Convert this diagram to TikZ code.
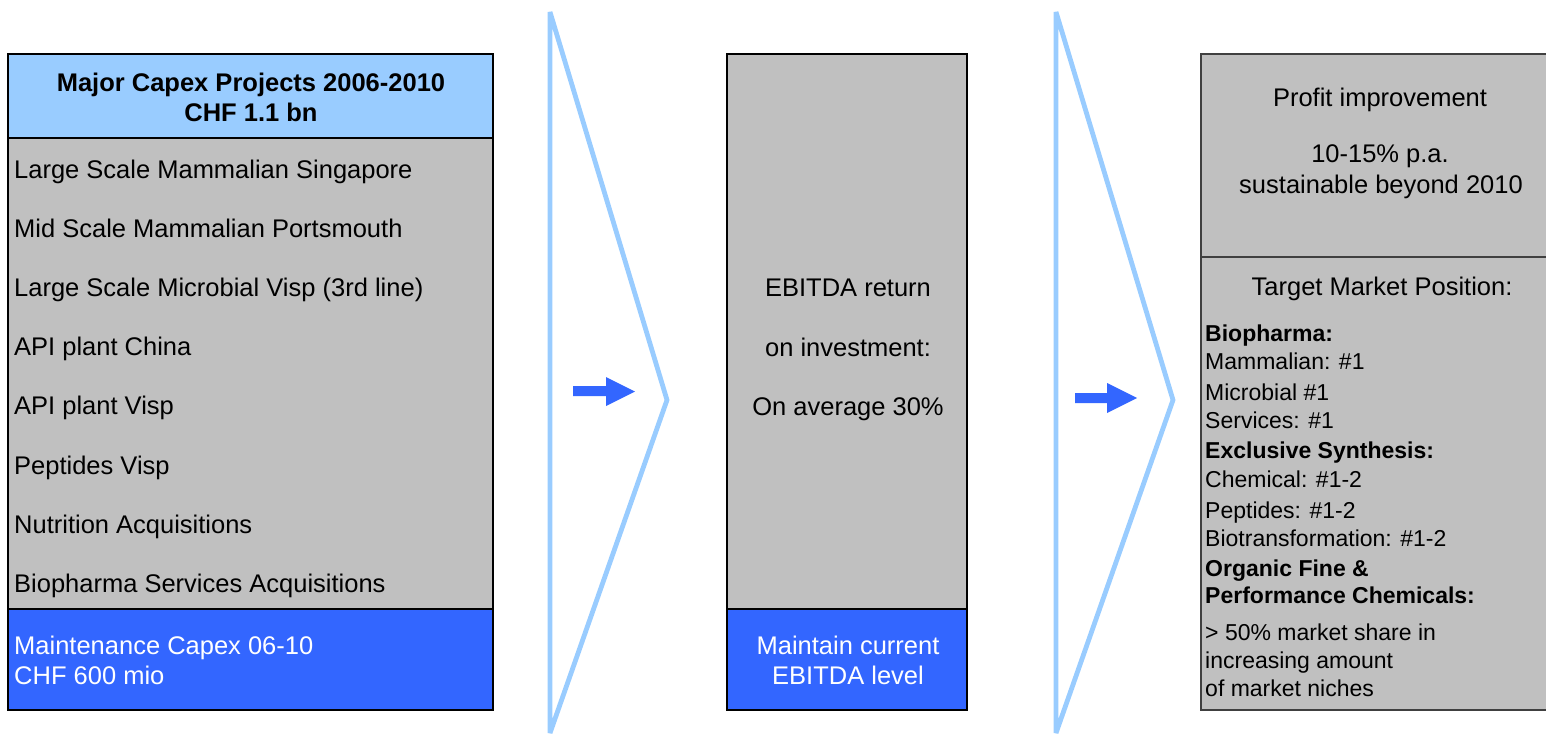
\documentclass[tikz,border=0pt]{standalone}
\usepackage{fontspec}
\setmainfont{Liberation Sans}
\usepackage{tikz}
\usetikzlibrary{positioning}
\definecolor{paleblue}{HTML}{99CCFF}
\definecolor{panelgray}{HTML}{C0C0C0}
\definecolor{deepblue}{HTML}{3366FF}
\tikzset{
  panel/.style={draw=black,line width=2pt},
  lbl/.style={inner sep=0pt,font=\fontsize{25.5}{30}\selectfont},
  small/.style={inner sep=0pt,anchor=base west,font=\fontsize{23}{28}\selectfont},
  chevron/.style={draw=paleblue,line width=4.8pt,line join=bevel},
  flow/.style={fill=deepblue}
}

\begin{document}
\begin{tikzpicture}[x=1pt,y=-1pt]
    \useasboundingbox (0,0) rectangle (1546,734);
    % chevrons
    \draw[chevron] (550,12) -- (667,400) -- (550,733) -- cycle;
    \draw[chevron] (1056,12) -- (1173,400) -- (1056,733) -- cycle;
    % arrows
    \fill[flow] (573,386) -- (606,386) -- (606,377) -- (635,391.5) -- (606,406) -- (606,396) -- (573,396) -- cycle;
    \fill[flow] (1075,393) -- (1107,393) -- (1107,383) -- (1137,398) -- (1107,413) -- (1107,403) -- (1075,403) -- cycle;
    % left panel
    \fill[paleblue] (8,54) rectangle (493,138);
    \fill[panelgray] (8,138) rectangle (493,609);
    \fill[deepblue] (8,609) rectangle (493,710);
    \draw[panel] (8,54) rectangle (493,710);
    \draw[panel] (8,138) -- (493,138);
    \draw[panel] (8,609) -- (493,609);
    \node[lbl,anchor=base,font=\fontsize{25.5}{30}\selectfont\bfseries] (head1) at (251,91) {Major Capex Projects 2006-2010};
    \node[lbl,anchor=base,font=\fontsize{25.5}{30}\selectfont\bfseries] (head2) at (251,121) {CHF 1.1 bn};
    \foreach \txt [count=\i from 0] in {Large Scale Mammalian Singapore,
        Mid Scale Mammalian Portsmouth, Large Scale Microbial Visp (3rd line),
        API plant China, API plant Visp, Peptides Visp, Nutrition Acquisitions,
        Biopharma Services Acquisitions}
      \node[lbl,anchor=base west] (proj\i) at (14,178+59.2*\i) {\txt};
    \node[lbl,anchor=base west,text=white] (maint1) at (14,654) {Maintenance Capex 06-10};
    \node[lbl,anchor=base west,text=white] (maint2) at (14,684) {CHF 600 mio};
    % middle panel
    \fill[panelgray] (727,54) rectangle (967,609);
    \fill[deepblue] (727,609) rectangle (967,710);
    \draw[panel] (727,54) rectangle (967,710);
    \draw[panel] (727,609) -- (967,609);
    \node[lbl,anchor=base] (ret1) at (848,296) {EBITDA return};
    \node[lbl,anchor=base] (ret2) at (848,356) {on investment:};
    \node[lbl,anchor=base] (ret3) at (848,415) {On average 30\%};
    \node[lbl,anchor=base,text=white] (keep1) at (848,654) {Maintain current};
    \node[lbl,anchor=base,text=white] (keep2) at (848,684) {EBITDA level};
    % right panel
    \fill[panelgray] (1201,54) rectangle (1550,710);
    \draw[panel,draw=black!75] (1201,54) rectangle (1550,710);
    \draw[panel,draw=black!75] (1201,257) -- (1550,257);
    \node[lbl,anchor=base] (gain1) at (1380,106) {Profit improvement};
    \node[lbl,anchor=base] (gain2) at (1380,162) {10-15\% p.a.};
    \node[lbl,anchor=base] (gain3) at (1381,193) {sustainable beyond 2010};
    \node[lbl,anchor=base] (pos) at (1382,295) {Target Market Position:};
    \node[small,font=\fontsize{23}{28}\selectfont\bfseries] (bio) at (1205,341) {Biopharma:};
    \node[small] (bio1) at (1205,369) {Mammalian: \#1};
    \node[small] (bio2) at (1205,400) {Microbial \#1};
    \node[small] (bio3) at (1205,428) {Services: \#1};
    \node[small,font=\fontsize{23}{28}\selectfont\bfseries] (syn) at (1205,458) {Exclusive Synthesis:};
    \node[small] (syn1) at (1205,487) {Chemical: \#1-2};
    \node[small] (syn2) at (1205,518) {Peptides: \#1-2};
    \node[small] (syn3) at (1205,546) {Biotransformation: \#1-2};
    \node[small,font=\fontsize{23}{28}\selectfont\bfseries] (ofc1) at (1205,576) {Organic Fine \&};
    \node[small,font=\fontsize{23}{28}\selectfont\bfseries] (ofc2) at (1205,603) {Performance Chemicals:};
    \node[small] (share1) at (1205,640) {> 50\% market share in};
    \node[small] (share2) at (1205,668) {increasing amount};
    \node[small] (share3) at (1205,696) {of market niches};
\end{tikzpicture}
\end{document}
